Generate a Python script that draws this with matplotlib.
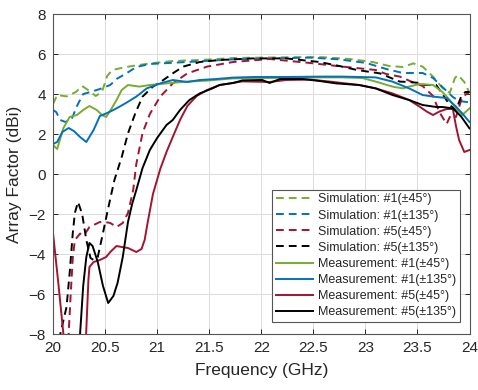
import matplotlib
matplotlib.use("Agg")
import matplotlib.pyplot as plt

plt.rcParams['font.family'] = ['Liberation Sans', 'DejaVu Sans']

# ---------------- data ----------------
sim1_45_x = [20.0, 20.04, 20.13, 20.22, 20.28, 20.35, 20.41, 20.47, 20.52, 20.57, 20.7, 20.93, 21.15, 21.41, 21.73,
             22.0, 22.3, 22.59, 22.85, 23.07, 23.23, 23.36, 23.46, 23.55, 23.65, 23.74, 23.81, 23.86, 23.89, 23.95, 24.0]
sim1_45_y = [3.5, 3.95, 3.88, 4.1, 4.4, 4.15, 3.9, 4.1, 4.9, 5.2, 5.35, 5.53, 5.65, 5.7, 5.8,
             5.82, 5.84, 5.84, 5.75, 5.6, 5.4, 5.35, 5.53, 5.37, 4.87, 4.3, 4.05, 4.8, 4.95, 4.6, 4.05]

sim1_135_x = [20.0, 20.03, 20.07, 20.12, 20.18, 20.23, 20.29, 20.36, 20.45, 20.55, 20.61, 20.71, 20.8, 20.93,
              21.22, 21.73, 22.1, 22.47, 22.75, 23.01, 23.2, 23.36, 23.55, 23.65, 23.74, 23.84, 23.9, 24.0]
sim1_135_y = [3.2, 3.1, 2.7, 2.6, 2.75, 3.4, 4.0, 4.1, 4.25, 4.45, 4.75, 5.05, 5.35, 5.5,
              5.58, 5.73, 5.78, 5.82, 5.73, 5.55, 5.25, 5.05, 5.05, 4.8, 4.35, 3.85, 3.65, 3.58]

sim5_45_x = [20.0, 20.13, 20.15, 20.17, 20.19, 20.21, 20.26, 20.3, 20.35, 20.45, 20.5, 20.55, 20.61, 20.67, 20.72,
             20.77, 20.8, 20.86, 20.93, 21.03, 21.15, 21.29, 21.48, 21.73, 22.08, 22.47, 22.78, 23.1, 23.2,
             23.33, 23.45, 23.55, 23.65, 23.71, 23.78, 23.82, 23.87, 23.93, 24.0]
sim5_45_y = [-12, -9.5, -8, -6.0, -4.2, -3.3, -2.98, -3.05, -2.65, -2.4, -2.4, -2.45, -2.65, -2.45, -1.95,
             -0.8, 0.5, 2.05, 3.0, 3.87, 4.53, 5.03, 5.37, 5.6, 5.75, 5.55, 5.37, 5.2, 5.0,
             4.87, 4.6, 4.4, 3.9, 3.1, 2.5, 2.95, 2.85, 3.85, 4.1]

sim5_135_x = [20.0, 20.07, 20.13, 20.16, 20.19, 20.21, 20.24, 20.28, 20.32, 20.36, 20.39, 20.43, 20.48, 20.52,
              20.56, 20.59, 20.66, 20.72, 20.79, 20.86, 20.96, 21.06, 21.15, 21.25, 21.41, 21.6, 21.92, 22.24,
              22.56, 22.75, 22.92, 23.14, 23.33, 23.42, 23.52, 23.57, 23.68, 23.74, 23.81, 23.87, 23.92, 23.96, 24.0]
sim5_135_y = [-12, -8, -6.65, -4.95, -2.95, -1.95, -1.4, -2.0, -3.3, -4.2, -4.3, -4.15, -2.95, -1.95,
              -1.0, -0.3, 0.85, 2.03, 3.03, 3.87, 4.37, 4.7, 5.03, 5.37, 5.6, 5.7, 5.78, 5.78,
              5.6, 5.4, 5.2, 5.03, 4.62, 4.6, 4.55, 4.45, 4.45, 4.0, 3.45, 3.2, 3.87, 4.1, 4.1]

meas1_45_x = [20.0, 20.04, 20.1, 20.16, 20.23, 20.29, 20.35, 20.42, 20.47, 20.51, 20.56, 20.61, 20.66, 20.72,
              20.83, 20.93, 21.09, 21.29, 21.48, 21.73, 22.08, 22.56, 22.78, 22.97, 23.1, 23.26, 23.36, 23.42,
              23.52, 23.65, 23.74, 23.81, 23.87, 23.93, 24.0]
meas1_45_y = [1.45, 1.25, 2.3, 2.85, 2.95, 3.2, 3.4, 3.2, 2.95, 2.85, 3.25, 3.7, 4.2, 4.45,
              4.37, 4.45, 4.53, 4.62, 4.67, 4.78, 4.8, 4.83, 4.83, 4.8, 4.62, 4.37, 4.28, 4.37,
              4.5, 4.45, 4.1, 3.7, 3.28, 2.95, 3.28]

meas1_135_x = [20.0, 20.04, 20.09, 20.15, 20.2, 20.26, 20.32, 20.39, 20.45, 20.52, 20.58, 20.64, 20.71, 20.8,
               20.9, 21.03, 21.15, 21.29, 21.41, 21.57, 21.73, 21.92, 22.24, 22.56, 22.78, 23.1, 23.26, 23.42,
               23.55, 23.65, 23.78, 23.87, 23.93, 24.0]
meas1_135_y = [1.5, 1.6, 2.1, 2.3, 2.15, 1.85, 1.6, 2.2, 2.9, 3.05, 3.2, 3.37, 3.58, 3.87,
               4.28, 4.53, 4.7, 4.6, 4.7, 4.75, 4.82, 4.85, 4.85, 4.87, 4.87, 4.83, 4.62, 4.28,
               3.95, 3.87, 3.8, 3.37, 3.03, 2.6]

meas5_45_x = [20.0, 20.05, 20.1, 20.15, 20.31, 20.34, 20.35, 20.39, 20.45, 20.51, 20.55, 20.61, 20.66, 20.72,
              20.8, 20.85, 20.88, 20.91, 20.96, 21.03, 21.09, 21.15, 21.22, 21.29, 21.38, 21.48, 21.6, 21.82,
              22.08, 22.24, 22.47, 22.66, 22.94, 23.1, 23.26, 23.42, 23.52, 23.59, 23.65, 23.71, 23.78, 23.84,
              23.87, 23.9, 23.95, 24.0]
meas5_45_y = [-2.95, -5.4, -8, -11, -9, -5.3, -4.65, -4.4, -4.3, -4.15, -3.9, -3.6, -3.65, -3.7,
              -3.9, -3.75, -3.3, -2.4, -1.0, 0.25, 1.1, 1.85, 2.7, 3.4, 3.9, 4.2, 4.45, 4.63,
              4.6, 4.7, 4.72, 4.62, 4.45, 4.28, 4.03, 3.7, 3.37, 3.12, 2.95, 3.12, 3.25, 3.25,
              2.4, 1.7, 1.1, 1.2]

meas5_135_x = [20.24, 20.26, 20.29, 20.32, 20.35, 20.38, 20.43, 20.48, 20.53, 20.58, 20.62, 20.67, 20.72, 20.76,
               20.8, 20.86, 20.93, 21.0, 21.09, 21.15, 21.22, 21.31, 21.41, 21.53, 21.6, 21.73, 21.82, 22.01,
               22.08, 22.18, 22.4, 22.56, 22.72, 22.94, 23.1, 23.26, 23.42, 23.55, 23.68, 23.74, 23.84, 23.92, 24.0]
meas5_135_y = [-10, -8, -5.6, -4.15, -3.45, -3.6, -4.4, -5.6, -6.45, -6.1, -5.45, -4.15, -2.4, -1.5,
               -0.8, 0.3, 1.2, 1.8, 2.45, 2.7, 3.2, 3.7, 4.03, 4.28, 4.45, 4.55, 4.68, 4.7,
               4.55, 4.75, 4.75, 4.65, 4.53, 4.45, 4.28, 3.95, 3.7, 3.45, 3.35, 3.35, 3.28, 2.87, 2.28]

labels = ['Simulation: #1(±45°)', 'Simulation: #1(±135°)', 'Simulation: #5(±45°)', 'Simulation: #5(±135°)',
          'Measurement: #1(±45°)', 'Measurement: #1(±135°)', 'Measurement: #5(±45°)', 'Measurement: #5(±135°)']
x_ticks = [20, 20.5, 21, 21.5, 22, 22.5, 23, 23.5, 24]
x_ticklabels = ['20', '20.5', '21', '21.5', '22', '22.5', '23', '23.5', '24']
y_ticks = [-8, -6, -4, -2, 0, 2, 4, 6, 8]

# ---------------- style ----------------
GREEN = '#77AC30'
BLUE = '#0072BD'
RED = '#A2142F'
BLACK = '#000000'

fig = plt.figure(figsize=(4.78, 3.90), dpi=100)
ax = fig.add_axes([53 / 478, 1 - 334 / 390, (469.5 - 53) / 478, (334 - 14) / 390])

series = [
    (sim1_45_x, sim1_45_y, GREEN, '--'),
    (sim1_135_x, sim1_135_y, BLUE, '--'),
    (sim5_45_x, sim5_45_y, RED, '--'),
    (sim5_135_x, sim5_135_y, BLACK, '--'),
    (meas1_45_x, meas1_45_y, GREEN, '-'),
    (meas1_135_x, meas1_135_y, BLUE, '-'),
    (meas5_45_x, meas5_45_y, RED, '-'),
    (meas5_135_x, meas5_135_y, BLACK, '-'),
]
for (xs, ys, c, ls), lab in zip(series, labels):
    kw = dict(dashes=(4, 2.6)) if ls == '--' else {}
    ax.plot(xs, ys, color=c, linestyle=ls, lw=1.4, label=lab, **kw)

ax.set_xlim(20, 24)
ax.set_ylim(-8, 8)
ax.set_xticks(x_ticks)
ax.set_xticklabels(x_ticklabels)
ax.set_yticks(y_ticks)
ax.grid(True, color='#dcdcdc', lw=0.7)
ax.set_axisbelow(True)
ax.tick_params(direction='in', length=3.5, width=0.7, top=True, right=True,
               labelsize=11, colors='#262626', pad=5)
for s in ax.spines.values():
    s.set_color('#555555')
    s.set_linewidth(0.8)

ax.set_xlabel('Frequency (GHz)', fontsize=12.5, color='#262626', labelpad=6)
ax.set_ylabel('Array Factor (dBi)', fontsize=12.5, color='#262626', labelpad=5)

leg = ax.legend(loc='lower right', bbox_to_anchor=(460 / 478, 1 - 322 / 390),
                bbox_transform=fig.transFigure, fontsize=9, frameon=True, fancybox=False,
                framealpha=1, edgecolor='#555555', handlelength=3.0, handletextpad=0.4,
                labelspacing=0.33, borderpad=0.3, borderaxespad=0)
leg.get_frame().set_linewidth(0.8)
for t in leg.get_texts():
    t.set_color('#262626')

fig.savefig('out.png', dpi=100)
